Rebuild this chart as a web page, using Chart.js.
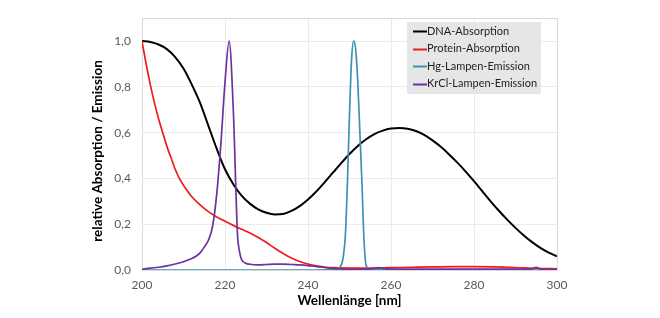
<!DOCTYPE html>
<html>
<head>
<meta charset="utf-8">
<script src="https://cdn.jsdelivr.net/npm/chart.js@4.4.1/dist/chart.umd.min.js"></script>
<style>
html,body{margin:0;padding:0;background:#fff;}
#wrap{width:660px;height:318px;position:relative;}
</style>
</head>
<body>
<div id="wrap"><canvas id="c" width="660" height="318"></canvas></div>
<script>
// ---- Data ----
const seriesNames = ["DNA-Absorption", "Protein-Absorption", "Hg-Lampen-Emission", "KrCl-Lampen-Emission"];
const xTicks = [200, 220, 240, 260, 280, 300];
const yTicks = [0, 0.2, 0.4, 0.6, 0.8, 1.0];

const dnaX = [200,202,204,206,208,210,212,214,216,218,220,222,224,226,228,230,232,234,236,238,240,242,244,246,248,250,252,254,256,258,260,262,264,266,268,270,272,274,276,278,280,282,284,286,288,290,292,294,296,298,300];
const dnaY = [1.0,0.996,0.985,0.965,0.93,0.88,0.81,0.73,0.63,0.53,0.44,0.375,0.325,0.29,0.265,0.25,0.243,0.245,0.258,0.279,0.308,0.343,0.383,0.425,0.467,0.507,0.542,0.571,0.594,0.609,0.618,0.62,0.617,0.607,0.59,0.566,0.538,0.505,0.469,0.43,0.388,0.344,0.3,0.259,0.22,0.184,0.151,0.122,0.097,0.076,0.06];

const protX = [200,201,202,203,204,205,206,207,208,209,210,212,214,216,218,220,222,224,226,228,230,232,234,236,238,240,242,244,246,250,255,260,265,270,275,280,285,290,295,300];
const protY = [1.0,0.90,0.81,0.73,0.66,0.60,0.54,0.49,0.44,0.40,0.37,0.32,0.285,0.255,0.232,0.213,0.195,0.178,0.162,0.142,0.12,0.095,0.072,0.052,0.037,0.026,0.018,0.013,0.01,0.008,0.008,0.01,0.012,0.014,0.015,0.015,0.014,0.011,0.007,0.005];

const hgX = [200,220,240,246,247,248,248.5,249,249.5,250,250.5,251,251.5,252,252.5,253,253.5,254,255,270,300];
const hgY = [0,0,0,0.002,0.005,0.02,0.06,0.15,0.38,0.68,0.92,1.0,0.96,0.82,0.6,0.38,0.13,0.02,0.003,0,0];

const krclX = [200,202,204,206,208,210,212,213,214,215,216,217,218,219,220,221,222,223,223.5,224,225,226,228,230,232,234,236,238,240,242,244,246,248,250,255,257,259,265,280,290,294,295,296,300];
const krclY = [0.003,0.008,0.012,0.018,0.026,0.036,0.05,0.06,0.075,0.1,0.13,0.19,0.33,0.55,0.82,1.0,0.7,0.16,0.08,0.045,0.03,0.025,0.022,0.024,0.026,0.026,0.024,0.022,0.019,0.015,0.011,0.007,0.004,0.003,0.005,0.01,0.005,0.004,0.004,0.004,0.005,0.012,0.004,0.003];

const colors = ["#000000", "#ee1c1c", "#3a93b2", "#7030a0"];

function zip(xs, ys){ return xs.map((x,i)=>({x:x, y:ys[i]})); }

const FONT = "Lato, 'Open Sans', sans-serif";

const framePlugin = {
  id: 'frame',
  beforeDatasetsDraw(chart){
    const {ctx, chartArea:a} = chart;
    ctx.save();
    ctx.strokeStyle = '#d9d9d9';
    ctx.lineWidth = 1;
    ctx.strokeRect(Math.round(a.left)+0.5, Math.round(a.top)+0.5, Math.round(a.right-a.left), Math.round(a.bottom-a.top));
    ctx.restore();
  },
  afterDraw(chart){
    const {ctx} = chart;
    // y axis title
    ctx.save();
    ctx.translate(98, 151);
    ctx.rotate(-Math.PI/2);
    ctx.font = "bold 13.5px " + FONT;
    ctx.fillStyle = '#000';
    ctx.textAlign = 'center';
    ctx.textBaseline = 'middle';
    ctx.fillText("relative Absorption / Emission", 0, 0);
    ctx.restore();
    // legend
    ctx.save();
    const bx = 407, by = 22, bw = 134, bh = 72;
    ctx.fillStyle = '#e6e6e6';
    ctx.fillRect(bx, by, bw, bh);
    ctx.font = "11px " + FONT;
    ctx.textBaseline = 'middle';
    ctx.textAlign = 'left';
    seriesNames.forEach((n, i) => {
      const y = 31 + i*17.6;
      ctx.strokeStyle = colors[i];
      ctx.lineWidth = 2;
      ctx.beginPath();
      ctx.moveTo(413, Math.round(y)+0.5);
      ctx.lineTo(427, Math.round(y)+0.5);
      ctx.stroke();
      ctx.fillStyle = '#222';
      ctx.fillText(n, 427, y);
    });
    ctx.restore();
  }
};

const datasets = [
  {label: seriesNames[0], data: zip(dnaX, dnaY), borderColor: colors[0], borderWidth: 2, order: 4},
  {label: seriesNames[1], data: zip(protX, protY), borderColor: colors[1], borderWidth: 1.7, order: 3},
  {label: seriesNames[2], data: zip(hgX, hgY), borderColor: colors[2], borderWidth: 1.7, order: 2},
  {label: seriesNames[3], data: zip(krclX, krclY), borderColor: colors[3], borderWidth: 1.7, order: 1}
].map(d => Object.assign(d, {pointRadius: 0, fill: false, cubicInterpolationMode: 'monotone', tension: 0.4}));

new Chart(document.getElementById('c'), {
  type: 'line',
  data: {datasets},
  options: {
    responsive: false,
    animation: false,
    plugins: {legend: {display: false}, tooltip: {enabled: false}},
    layout: {padding: {left: 104, right: 103, top: 11, bottom: 0}},
    scales: {
      x: {
        type: 'linear', min: 200, max: 300,
        afterFit(s){ s.height = 48; },
        afterBuildTicks(s){ s.ticks = xTicks.map(v => ({value: v})); },
        grid: {color: '#ebebeb', drawTicks: false},
        border: {display: true, color: '#d0d0d0'},
        ticks: {padding: 8, color: '#595959', font: {family: FONT, size: 12}, maxRotation: 0},
        title: {display: true, text: 'Wellenlänge [nm]', color: '#000', font: {family: FONT, size: 13.5, weight: 'bold'}, padding: {top: 0, bottom: 9}}
      },
      y: {
        type: 'linear', min: 0, max: 1.1,
        afterFit(s){ s.width = 38; },
        afterBuildTicks(s){ s.ticks = yTicks.map(v => ({value: v})); },
        grid: {color: '#ebebeb', drawTicks: false},
        border: {display: true, color: '#d0d0d0'},
        ticks: {padding: 11, color: '#595959', font: {family: FONT, size: 12},
          callback: v => v.toFixed(1).replace('.', ',')}
      }
    }
  },
  plugins: [framePlugin]
});
</script>
</body>
</html>
